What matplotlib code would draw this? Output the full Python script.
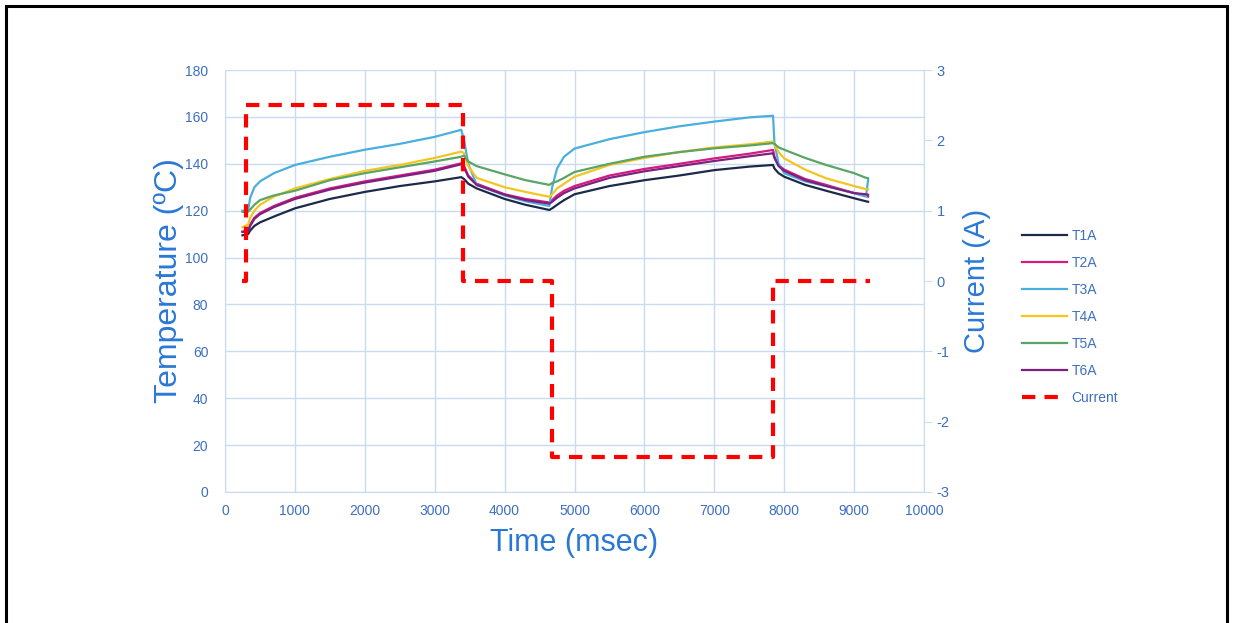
import matplotlib
matplotlib.use("Agg")
import matplotlib.pyplot as plt
from matplotlib.patches import Rectangle

plt.rcParams['font.family'] = ['Liberation Sans', 'DejaVu Sans']
plt.rcParams['axes.unicode_minus'] = False

# time axis (msec) shared by the temperature traces
t = [250, 330, 360, 420, 500, 700, 1000, 1500, 2000, 2500, 3000, 3380, 3420, 3480,
     3600, 4000, 4300, 4640, 4680, 4750, 4850, 5000, 5500, 6000, 6500, 7000, 7500,
     7840, 7860, 7920, 8000, 8300, 8600, 9000, 9170, 9200]

T1A = [109.5, 110, 111.5, 113.5, 115, 117.5, 121, 125, 128, 130.5, 132.5, 134.3, 133.5, 131.5,
       129.5, 125, 122.5, 120.3, 121, 122.5, 124.5, 127, 130.5, 133, 135, 137.3, 138.8,
       139.5, 138, 136, 134.5, 131, 128.5, 125.3, 124, 123.8]
T2A = [111, 111.5, 114, 117, 119, 122, 125.5, 129.5, 132.5, 135, 137.5, 140.2, 139, 135,
       131.5, 127, 125, 123.5, 124.5, 126.5, 128.5, 130.5, 135, 137.8, 140, 142.3, 144.3,
       145.9, 143, 139.5, 137.5, 133.5, 131, 127.5, 126.3, 126]
T3A = [120, 120, 125.5, 130, 132.5, 136, 139.5, 143, 146, 148.5, 151.5, 154.5, 150, 140,
       131, 126.5, 124, 122, 130, 138, 143, 146.5, 150.5, 153.5, 156, 158, 159.8,
       160.5, 149, 140, 136, 132.5, 130.5, 127.5, 126, 133]
T4A = [113, 114, 117, 120, 122.5, 126, 129.5, 133.5, 137, 139.5, 142.5, 145.2, 144.5, 139,
       134, 130, 128, 125.9, 127, 129.5, 131.5, 134.5, 139.5, 142.5, 145, 147, 148.3,
       149.5, 148, 145, 142.3, 137.5, 133.8, 130.5, 129.2, 129]
T5A = [119.5, 119.5, 120.5, 122.5, 124.5, 126.5, 128.5, 133, 136, 138.5, 141, 143, 143.5, 141,
       139, 135.5, 133, 131, 131.8, 132.5, 134, 136.5, 140, 143, 145, 146.6, 147.8,
       148.8, 148.5, 147, 146, 142.5, 139.5, 136, 134, 133.8]
T6A = [111, 111, 113.5, 116.5, 118.5, 121.5, 125, 129, 132, 134.5, 137, 139.8, 138.5, 134.5,
       131, 126.8, 124.5, 123, 123.8, 125.5, 127.5, 129.5, 134, 136.8, 139, 141.2, 143.2,
       144.5, 142.5, 139, 137, 133, 130.5, 127.5, 127, 126.8]

# current steps
cur_t = [250, 300, 3400, 4680, 7840, 9230]
cur_v = [0, 2.5, 0, -2.5, 0, 0]

names = ['T1A', 'T2A', 'T3A', 'T4A', 'T5A', 'T6A']
series = [T1A, T2A, T3A, T4A, T5A, T6A]
colors = ['#1c2a4a', '#d8197f', '#4aafdc', '#f3c61f', '#5aa564', '#7d2181']

label_c = '#2a78d6'
tick_c = '#3d6fc0'
grid_c = '#c8dbf0'

fig = plt.figure(figsize=(12.33, 6.23), dpi=100)
ax = fig.add_axes([0.1825, 0.2103, 0.5669, 0.6773])
ax2 = ax.twinx()

lines = []
for name, y, c in zip(names, series, colors):
    l, = ax.plot(t, y, color=c, lw=1.6, label=name)
    lines.append(l)

lc, = ax2.plot(cur_t, cur_v, color='#ff0000', lw=3, drawstyle='steps-post',
               dashes=(3.2, 2.2), label='Current')
lines.append(lc)

ax.set_xlim(0, 10000)
ax.set_ylim(0, 180)
ax.set_xticks(range(0, 10001, 1000))
ax.set_yticks(range(0, 181, 20))
ax2.set_ylim(-3, 3)
ax2.set_yticks(range(-3, 4))

ax.grid(True, color=grid_c, lw=1)
ax.set_axisbelow(True)
for sp in ['top', 'right']:
    ax.spines[sp].set_visible(False)
for sp in ['left', 'bottom']:
    ax.spines[sp].set_color(grid_c)
for sp in ['top', 'left', 'bottom']:
    ax2.spines[sp].set_visible(False)
ax2.spines['right'].set_color(grid_c)

ax.tick_params(axis='both', length=0, labelcolor=tick_c, labelsize=10)
ax.tick_params(axis='y', pad=12)
ax.tick_params(axis='x', pad=9)
ax2.tick_params(axis='y', length=6, color=grid_c, labelcolor=tick_c, labelsize=10.5, pad=3)

ax.set_xlabel('Time (msec)', fontsize=22, color=label_c, labelpad=7)
ax.set_ylabel('Temperature (ºC)', fontsize=23, color=label_c, labelpad=1)
ax2.set_ylabel('Current (A)', fontsize=21, color=label_c, labelpad=10)

leg = fig.legend(handles=lines, loc='upper left', bbox_to_anchor=(0.819, 0.652),
                 frameon=False, fontsize=10, handlelength=3.2, handletextpad=0.35,
                 labelspacing=0.93)
for txt in leg.get_texts():
    txt.set_color(tick_c)

# outer frame
fig.patches.append(Rectangle((0.005, -0.05), 0.99, 1.04, transform=fig.transFigure,
                             fill=False, edgecolor='black', lw=2.2))

fig.savefig('out.png', dpi=100)
